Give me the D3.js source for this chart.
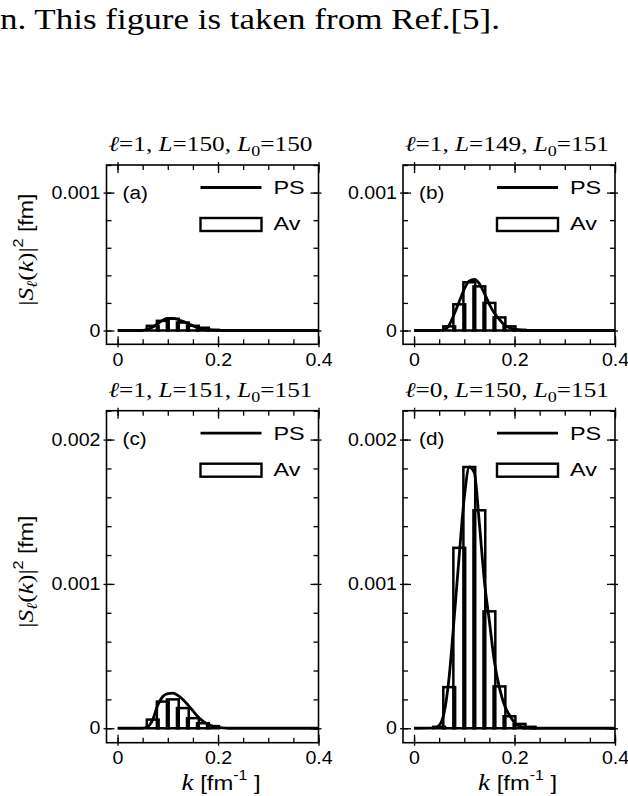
<!DOCTYPE html>
<html>
<head>
<meta charset="utf-8">
<script src="https://cdn.jsdelivr.net/npm/d3@7"></script>
<style>
html,body{margin:0;padding:0;background:#fff;}
svg{display:block;}
</style>
</head>
<body>
<script>
// ---- data ----
const barK = [0.05, 0.07, 0.09, 0.11, 0.13, 0.15, 0.17, 0.19, 0.21, 0.23];
const avA = [0, 0.000034, 0.00007, 0.000085, 0.000058, 0.000034, 0.00002, 0.000005, 0, 0];
const avB = [0, 0.00003, 0.00019, 0.00035, 0.00032, 0.0002, 0.000095, 0.00003, 0.000005, 0];
const avC = [0, 0.00006, 0.000185, 0.0002, 0.00014, 0.00007, 0.000035, 0.000015, 0, 0];
const avD = [0.00001, 0.000285, 0.00125, 0.00181, 0.00151, 0.00081, 0.00029, 0.000083, 0.00003, 0.00001];

const psK = [0, 0.04, 0.05, 0.06, 0.07, 0.08, 0.09, 0.10, 0.11, 0.12, 0.13, 0.14, 0.15, 0.16, 0.17, 0.18, 0.19, 0.20, 0.21, 0.22, 0.24, 0.4];
const psA = [0, 0, 0, 0.000008, 0.000025, 0.00005, 0.000075, 0.000087, 0.000088, 0.00008, 0.000066, 0.00005, 0.000034, 0.00002, 0.000012, 0.000006, 0.000003, 0.000001, 0, 0, 0, 0];
const psB = [0, 0, 0, 0.000005, 0.00004, 0.00012, 0.00021, 0.0003, 0.00036, 0.00037, 0.00034, 0.00027, 0.00019, 0.000125, 0.00008, 0.00004, 0.00002, 0.00001, 0.000004, 0, 0, 0];
const psC = [0, 0, 0, 0.00001, 0.00006, 0.00016, 0.00022, 0.00024, 0.000243, 0.000228, 0.0002, 0.000162, 0.00012, 0.00008, 0.00005, 0.000028, 0.000014, 0.000006, 0.000002, 0, 0, 0];
const psD = [0, 0.000003, 0.00002, 0.00011, 0.00036, 0.00077, 0.0012, 0.0016, 0.00181, 0.00177, 0.00142, 0.00102, 0.00074, 0.00046, 0.00028, 0.00016, 0.00009, 0.00004, 0.000015, 0.000005, 0, 0];

const panelLetters = ["(a)", "(b)", "(c)", "(d)"];
const titleEll = ["1", "1", "1", "0"];
const titleL = ["150", "149", "151", "150"];
const titleL0 = ["150", "151", "151", "151"];
const xMajorTicks = [0, 0.2, 0.4];
const xMinorTicks = [0, 0.05, 0.1, 0.15, 0.2, 0.25, 0.3, 0.35, 0.4];
const yMajorTop = [0, 0.001];
const yMajorBottom = [0, 0.001, 0.002];
const legendLabels = ["PS", "Av"];
const caption = "n. This figure is taken from Ref.[5].";

// ---- layout ----
const W = 628, H = 796;
const SANS = "'Liberation Sans', Arial, Helvetica, sans-serif";
const SERIF = "'Liberation Serif', 'Times New Roman', serif";
const SX_TICK = 1.12;
const SX_LEG = 1.3;

function stretch(sel, f) {
  sel.each(function () {
    const L = this.getComputedTextLength();
    if (L > 0) d3.select(this).attr("textLength", L * f).attr("lengthAdjust", "spacingAndGlyphs");
  });
}

const svg = d3.select("body").append("svg").attr("width", W).attr("height", H);
svg.append("rect").attr("width", W).attr("height", H).attr("fill", "#fff");

svg.append("text").attr("x", 0).attr("y", 29)
  .attr("font-family", SERIF).attr("font-size", 29)
  .attr("textLength", 500).attr("lengthAdjust", "spacingAndGlyphs")
  .attr("fill", "#000").text(caption);

const panels = [
  {x0: 106.5, y0: 165, w: 212, h: 179.3, ymax: 0.0012, yMajor: yMajorTop, av: avA, ps: psA, showX: false},
  {x0: 403, y0: 165, w: 212, h: 179.3, ymax: 0.0012, yMajor: yMajorTop, av: avB, ps: psB, showX: false},
  {x0: 106.5, y0: 410.7, w: 212, h: 332, ymax: 0.0022, yMajor: yMajorBottom, av: avC, ps: psC, showX: true},
  {x0: 403, y0: 410.7, w: 212, h: 332, ymax: 0.0022, yMajor: yMajorBottom, av: avD, ps: psD, showX: true}
];

panels.forEach((p, i) => {
  const x = d3.scaleLinear().domain([-0.022, 0.4]).range([p.x0, p.x0 + p.w]);
  const y = d3.scaleLinear().domain([-0.0001, p.ymax]).range([p.y0 + p.h, p.y0]);
  const g = svg.append("g");

  const cid = "clip" + i;
  svg.append("clipPath").attr("id", cid).append("rect")
    .attr("x", p.x0).attr("y", p.y0).attr("width", p.w).attr("height", p.h);

  // title
  const t = g.append("text").attr("x", p.x0 + p.w / 2 - 2).attr("y", p.y0 - 14)
    .attr("text-anchor", "middle").attr("font-family", SERIF).attr("font-size", 21)
    .attr("fill", "#000");
  t.append("tspan").attr("font-style", "italic").text("ℓ");
  t.append("tspan").text("=" + titleEll[i] + ", ");
  t.append("tspan").attr("font-style", "italic").text("L");
  t.append("tspan").text("=" + titleL[i] + ", ");
  t.append("tspan").attr("font-style", "italic").text("L");
  t.append("tspan").attr("font-size", 15).attr("dy", 5).text("0");
  t.append("tspan").attr("dy", -5).text("=" + titleL0[i]);
  t.attr("textLength", 204).attr("lengthAdjust", "spacingAndGlyphs");

  const step = d3.range(0, p.ymax + 1e-9, 0.0002);

  const styleAxis = (sel) => {
    sel.select(".domain").remove();
    sel.selectAll("line").attr("stroke", "#000").attr("stroke-width", 1.3);
    sel.selectAll("text").attr("font-family", SANS).attr("font-size", 17.5).attr("fill", "#000");
  };
  // bottom
  const bMin = g.append("g").attr("transform", `translate(0,${p.y0 + p.h})`)
    .call(d3.axisBottom(x).tickValues(xMinorTicks).tickSizeInner(-5).tickSizeOuter(0).tickFormat(""));
  styleAxis(bMin);
  const bMaj = g.append("g").attr("transform", `translate(0,${p.y0 + p.h})`)
    .call(d3.axisBottom(x).tickValues(xMajorTicks).tickSizeInner(-8).tickSizeOuter(0).tickPadding(9)
      .tickFormat(d => d === 0 ? "0" : d3.format(".1f")(d)));
  styleAxis(bMaj);
  bMaj.selectAll("line").attr("y1", 3);
  stretch(bMaj.selectAll("text"), SX_TICK);
  // top
  const tMin = g.append("g").attr("transform", `translate(0,${p.y0})`)
    .call(d3.axisTop(x).tickValues(xMinorTicks).tickSizeInner(-5).tickSizeOuter(0).tickFormat(""));
  styleAxis(tMin);
  const tMaj = g.append("g").attr("transform", `translate(0,${p.y0})`)
    .call(d3.axisTop(x).tickValues(xMajorTicks).tickSizeInner(-8).tickSizeOuter(0).tickFormat(""));
  styleAxis(tMaj);
  tMaj.selectAll("line").attr("y1", -3);
  // left
  const lMin = g.append("g").attr("transform", `translate(${p.x0},0)`)
    .call(d3.axisLeft(y).tickValues(step).tickSizeInner(-5).tickSizeOuter(0).tickFormat(""));
  styleAxis(lMin);
  const lMaj = g.append("g").attr("transform", `translate(${p.x0},0)`)
    .call(d3.axisLeft(y).tickValues(p.yMajor).tickSizeInner(-8).tickSizeOuter(0).tickPadding(6)
      .tickFormat(d => d === 0 ? "0" : d3.format(".3f")(d)));
  styleAxis(lMaj);
  lMaj.selectAll("line").attr("x1", -3);
  stretch(lMaj.selectAll("text"), SX_TICK);
  // right
  const rMin = g.append("g").attr("transform", `translate(${p.x0 + p.w},0)`)
    .call(d3.axisRight(y).tickValues(step).tickSizeInner(-5).tickSizeOuter(0).tickFormat(""));
  styleAxis(rMin);
  const rMaj = g.append("g").attr("transform", `translate(${p.x0 + p.w},0)`)
    .call(d3.axisRight(y).tickValues(p.yMajor).tickSizeInner(-8).tickSizeOuter(0).tickFormat(""));
  styleAxis(rMaj);
  rMaj.selectAll("line").attr("x1", 3);

  // bars (Av)
  const bw = 0.0235;
  const bars = barK.map((k, j) => ({k, v: p.av[j]})).filter(d => d.v > 0);
  g.append("g").attr("clip-path", `url(#${cid})`).selectAll("rect").data(bars).join("rect")
    .attr("x", d => x(d.k - bw / 2)).attr("width", d => x(d.k + bw / 2) - x(d.k - bw / 2))
    .attr("y", d => y(d.v)).attr("height", d => y(0) - y(d.v))
    .attr("fill", "none").attr("stroke", "#000").attr("stroke-width", 2.5);

  // PS curve
  const line = d3.line().x(d => x(d[0])).y(d => y(d[1])).curve(d3.curveMonotoneX);
  g.append("path").attr("clip-path", `url(#${cid})`)
    .datum(psK.map((k, j) => [k, p.ps[j]]))
    .attr("d", line).attr("fill", "none").attr("stroke", "#000").attr("stroke-width", 2.8);

  // frame
  g.append("rect").attr("x", p.x0).attr("y", p.y0).attr("width", p.w).attr("height", p.h)
    .attr("fill", "none").attr("stroke", "#000").attr("stroke-width", 1.6);

  // panel letter
  const pl = g.append("text").attr("x", p.x0 + 16).attr("y", p.y0 + 34)
    .attr("font-family", SANS).attr("font-size", 18).attr("fill", "#000").text(panelLetters[i]);
  stretch(pl, 1.15);

  // legend
  g.append("line").attr("x1", p.x0 + 94).attr("x2", p.x0 + 155)
    .attr("y1", p.y0 + 22.5).attr("y2", p.y0 + 22.5).attr("stroke", "#000").attr("stroke-width", 2.8);
  const lt1 = g.append("text").attr("x", p.x0 + 167).attr("y", p.y0 + 29)
    .attr("font-family", SANS).attr("font-size", 18).attr("fill", "#000").text(legendLabels[0]);
  stretch(lt1, SX_LEG);
  g.append("rect").attr("x", p.x0 + 94).attr("y", p.y0 + 53).attr("width", 61).attr("height", 13)
    .attr("fill", "none").attr("stroke", "#000").attr("stroke-width", 2.4);
  const lt2 = g.append("text").attr("x", p.x0 + 167).attr("y", p.y0 + 65)
    .attr("font-family", SANS).attr("font-size", 18).attr("fill", "#000").text(legendLabels[1]);
  stretch(lt2, SX_LEG);

  // y label on left panels
  if (i % 2 === 0) {
    const yl = svg.append("text")
      .attr("transform", `translate(33,${p.y0 + p.h / 2 - 5}) rotate(-90)`)
      .attr("text-anchor", "middle").attr("font-family", SERIF).attr("font-size", 22).attr("fill", "#000");
    yl.append("tspan").text("|");
    yl.append("tspan").attr("font-style", "italic").text("S");
    yl.append("tspan").attr("font-style", "italic").attr("font-size", 15).attr("dy", 4).text("ℓ");
    yl.append("tspan").attr("dy", -4).text("(");
    yl.append("tspan").attr("font-style", "italic").text("k");
    yl.append("tspan").text(")|");
    yl.append("tspan").attr("font-size", 14).attr("font-family", SANS).attr("dy", -10).text("2");
    yl.append("tspan").attr("font-family", SANS).attr("font-size", 20).attr("dy", 10).text(" [fm]");
    yl.attr("textLength", 112).attr("lengthAdjust", "spacingAndGlyphs");
  }
  // x label on bottom panels
  if (p.showX) {
    const xl = svg.append("text").attr("x", p.x0 + 75).attr("y", 790).attr("fill", "#000");
    xl.append("tspan").attr("font-family", SERIF).attr("font-style", "italic").attr("font-size", 24).text("k");
    xl.append("tspan").attr("font-family", SANS).attr("font-size", 21).text(" [fm");
    xl.append("tspan").attr("font-family", SANS).attr("font-size", 14).attr("dy", -10).text("-1");
    xl.append("tspan").attr("font-family", SANS).attr("font-size", 21).attr("dy", 10).text(" ]");
    xl.attr("textLength", 79).attr("lengthAdjust", "spacingAndGlyphs");
  }
});
</script>
</body>
</html>
